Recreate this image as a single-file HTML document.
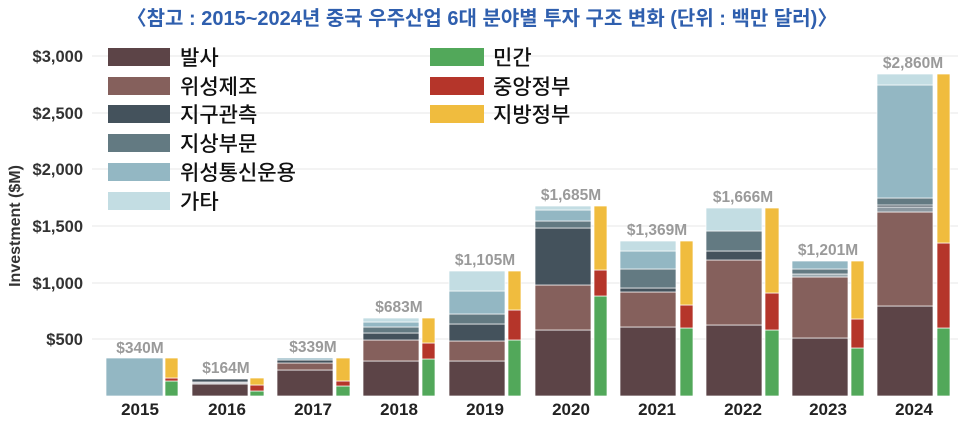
<!DOCTYPE html>
<html><head><meta charset="utf-8"><style>
body{margin:0;background:#fff;}
svg{display:block;font-family:"Liberation Sans","Noto Sans CJK KR",sans-serif;}
</style></head><body>
<svg width="963" height="423" viewBox="0 0 963 423" xmlns="http://www.w3.org/2000/svg">
<text x="482" y="25" text-anchor="middle" font-size="20" font-weight="bold" fill="#2f5fae">〈참고 : 2015~2024년 중국 우주산업 6대 분야별 투자 구조 변화 (단위 : 백만 달러)〉</text>
<g stroke="#ececec" stroke-width="1.2">
<line x1="92" x2="958" y1="56" y2="56"/><line x1="92" x2="958" y1="113" y2="113"/><line x1="92" x2="958" y1="169" y2="169"/><line x1="92" x2="958" y1="226" y2="226"/><line x1="92" x2="958" y1="283" y2="283"/><line x1="92" x2="958" y1="339" y2="339"/>
</g>
<g font-size="16.5" font-weight="bold" fill="#333" text-anchor="end">
<text x="83" y="62">$3,000</text><text x="83" y="119">$2,500</text><text x="83" y="175">$2,000</text><text x="83" y="232">$1,500</text><text x="83" y="289">$1,000</text><text x="83" y="345">$500</text>
</g>
<text transform="translate(20,226) rotate(-90)" text-anchor="middle" font-size="16" font-weight="bold" fill="#333">Investment ($M)</text>
<g stroke="#fff" stroke-width="0.7">
<rect x="106" y="358" width="57" height="38" fill="#93b7c3"/>
<rect x="165" y="381" width="13" height="15" fill="#52a85a"/><rect x="165" y="378" width="13" height="3" fill="#b5352a"/><rect x="165" y="358" width="13" height="20" fill="#f0bc3e"/>
<rect x="192" y="384" width="56" height="12" fill="#5c4447"/><rect x="192" y="382" width="56" height="2" fill="#c3c3c8"/><rect x="192" y="379" width="56" height="3" fill="#44525c"/>
<rect x="250" y="391" width="14" height="5" fill="#52a85a"/><rect x="250" y="385" width="14" height="6" fill="#b5352a"/><rect x="250" y="378" width="14" height="7" fill="#f0bc3e"/>
<rect x="277" y="370" width="56" height="26" fill="#5c4447"/><rect x="277" y="363" width="56" height="7" fill="#85605c"/><rect x="277" y="360" width="56" height="3" fill="#44525c"/><rect x="277" y="358" width="56" height="2" fill="#93b7c3"/>
<rect x="336" y="386" width="14" height="10" fill="#52a85a"/><rect x="336" y="381" width="14" height="5" fill="#b5352a"/><rect x="336" y="358" width="14" height="23" fill="#f0bc3e"/>
<rect x="363" y="361" width="56" height="35" fill="#5c4447"/><rect x="363" y="340" width="56" height="21" fill="#85605c"/><rect x="363" y="333" width="56" height="7" fill="#44525c"/><rect x="363" y="327" width="56" height="6" fill="#637a82"/><rect x="363" y="322" width="56" height="5" fill="#93b7c3"/><rect x="363" y="318" width="56" height="4" fill="#c3dde3"/>
<rect x="422" y="359" width="13" height="37" fill="#52a85a"/><rect x="422" y="343" width="13" height="16" fill="#b5352a"/><rect x="422" y="318" width="13" height="25" fill="#f0bc3e"/>
<rect x="449" y="361" width="56" height="35" fill="#5c4447"/><rect x="449" y="341" width="56" height="20" fill="#85605c"/><rect x="449" y="324" width="56" height="17" fill="#44525c"/><rect x="449" y="314" width="56" height="10" fill="#637a82"/><rect x="449" y="291" width="56" height="23" fill="#93b7c3"/><rect x="449" y="271" width="56" height="20" fill="#c3dde3"/>
<rect x="508" y="340" width="13" height="56" fill="#52a85a"/><rect x="508" y="310" width="13" height="30" fill="#b5352a"/><rect x="508" y="271" width="13" height="39" fill="#f0bc3e"/>
<rect x="535" y="330" width="56" height="66" fill="#5c4447"/><rect x="535" y="285" width="56" height="45" fill="#85605c"/><rect x="535" y="228" width="56" height="57" fill="#44525c"/><rect x="535" y="221" width="56" height="7" fill="#637a82"/><rect x="535" y="210" width="56" height="11" fill="#93b7c3"/><rect x="535" y="206" width="56" height="4" fill="#c3dde3"/>
<rect x="594" y="296" width="13" height="100" fill="#52a85a"/><rect x="594" y="270" width="13" height="26" fill="#b5352a"/><rect x="594" y="206" width="13" height="64" fill="#f0bc3e"/>
<rect x="620" y="327" width="56" height="69" fill="#5c4447"/><rect x="620" y="292" width="56" height="35" fill="#85605c"/><rect x="620" y="288" width="56" height="4" fill="#44525c"/><rect x="620" y="269" width="56" height="19" fill="#637a82"/><rect x="620" y="251" width="56" height="18" fill="#93b7c3"/><rect x="620" y="241" width="56" height="10" fill="#c3dde3"/>
<rect x="680" y="328" width="13" height="68" fill="#52a85a"/><rect x="680" y="305" width="13" height="23" fill="#b5352a"/><rect x="680" y="241" width="13" height="64" fill="#f0bc3e"/>
<rect x="706" y="325" width="56" height="71" fill="#5c4447"/><rect x="706" y="260" width="56" height="65" fill="#85605c"/><rect x="706" y="251" width="56" height="9" fill="#44525c"/><rect x="706" y="231" width="56" height="20" fill="#637a82"/><rect x="706" y="208" width="56" height="23" fill="#c3dde3"/>
<rect x="765" y="330" width="14" height="66" fill="#52a85a"/><rect x="765" y="293" width="14" height="37" fill="#b5352a"/><rect x="765" y="208" width="14" height="85" fill="#f0bc3e"/>
<rect x="792" y="338" width="56" height="58" fill="#5c4447"/><rect x="792" y="277" width="56" height="61" fill="#85605c"/><rect x="792" y="274" width="56" height="3" fill="#9aa8ae"/><rect x="792" y="269" width="56" height="5" fill="#637a82"/><rect x="792" y="261" width="56" height="8" fill="#93b7c3"/>
<rect x="851" y="348" width="13" height="48" fill="#52a85a"/><rect x="851" y="319" width="13" height="29" fill="#b5352a"/><rect x="851" y="261" width="13" height="58" fill="#f0bc3e"/>
<rect x="877" y="306" width="56" height="90" fill="#5c4447"/><rect x="877" y="212" width="56" height="94" fill="#85605c"/><rect x="877" y="207" width="56" height="5" fill="#8c98a0"/><rect x="877" y="205" width="56" height="2" fill="#44525c"/><rect x="877" y="198" width="56" height="7" fill="#637a82"/><rect x="877" y="85" width="56" height="113" fill="#93b7c3"/><rect x="877" y="74" width="56" height="11" fill="#c3dde3"/>
<rect x="937" y="328" width="13" height="68" fill="#52a85a"/><rect x="937" y="243" width="13" height="85" fill="#b5352a"/><rect x="937" y="74" width="13" height="169" fill="#f0bc3e"/>
</g>
<g font-size="15.5" font-weight="bold" fill="#9a9a9a" text-anchor="middle">
<text x="140" y="353">$340M</text><text x="226" y="373">$164M</text><text x="313" y="352">$339M</text><text x="399" y="312">$683M</text><text x="485" y="265">$1,105M</text><text x="571" y="200">$1,685M</text><text x="657" y="235">$1,369M</text><text x="743" y="202">$1,666M</text><text x="828" y="255">$1,201M</text><text x="913" y="68">$2,860M</text>
</g>
<g font-size="17" font-weight="bold" fill="#222" text-anchor="middle">
<text x="140" y="415">2015</text><text x="227" y="415">2016</text><text x="313" y="415">2017</text><text x="399" y="415">2018</text><text x="485" y="415">2019</text><text x="571" y="415">2020</text><text x="657" y="415">2021</text><text x="743" y="415">2022</text><text x="828" y="415">2023</text><text x="914" y="415">2024</text>
</g>
<g>
<rect x="108" y="48" width="62" height="18" fill="#5c4447"/>
<rect x="108" y="77" width="62" height="18" fill="#85605c"/>
<rect x="108" y="105" width="62" height="18" fill="#44525c"/>
<rect x="108" y="134" width="62" height="18" fill="#637a82"/>
<rect x="108" y="163" width="62" height="18" fill="#93b7c3"/>
<rect x="108" y="192" width="62" height="18" fill="#c3dde3"/>
<rect x="430" y="48" width="54" height="18" fill="#52a85a"/>
<rect x="430" y="77" width="54" height="18" fill="#b5352a"/>
<rect x="430" y="105" width="54" height="18" fill="#f0bc3e"/>
</g>
<g font-size="21" font-weight="500" fill="#111">
<text x="180" y="65">발사</text><text x="180" y="94">위성제조</text><text x="180" y="122">지구관측</text><text x="180" y="151">지상부문</text><text x="180" y="180">위성통신운용</text><text x="180" y="209">가타</text>
<text x="493" y="65">민간</text><text x="493" y="94">중앙정부</text><text x="493" y="122">지방정부</text>
</g>
</svg>
</body></html>
